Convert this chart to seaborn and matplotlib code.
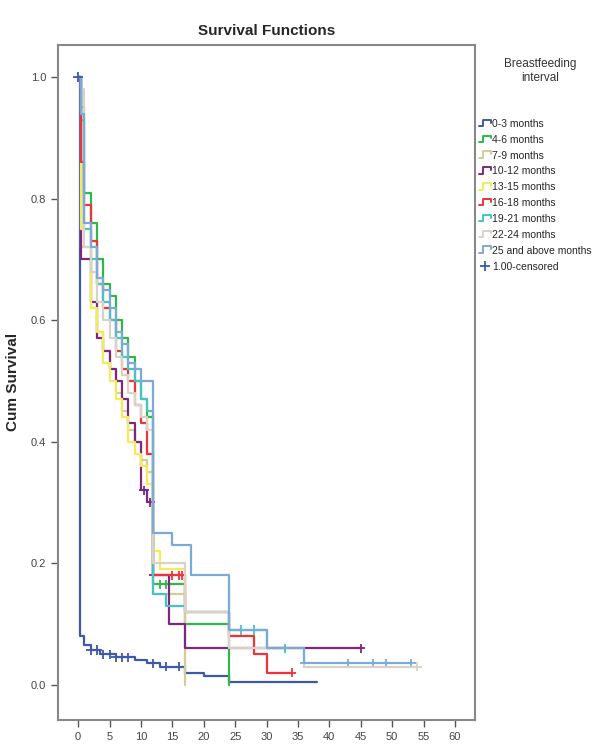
import numpy as np
import pandas as pd
import seaborn as sns
import matplotlib.pyplot as plt
from matplotlib.legend_handler import HandlerBase

# groups and colours (SPSS default palette)
groups = ["0-3 months", "4-6 months", "7-9 months", "10-12 months", "13-15 months",
          "16-18 months", "19-21 months", "22-24 months", "25 and above months"]
colors = ["#3E58AC", "#2EB848", "#D3CE97", "#7C287D", "#F3EC5A",
          "#EF3338", "#48C2C5", "#D8D2C8", "#7AAAD5"]

# step times / survival after each step, end of follow-up, censored times
t_03 = [0.3, 1, 2, 3.5, 6, 9, 11, 13, 17, 20, 24]
s_03 = [0.08, 0.065, 0.057, 0.05, 0.045, 0.04, 0.035, 0.03, 0.02, 0.015, 0.004]
c_03 = [2, 3, 4, 5, 6, 7, 8, 12, 14, 16]

t_46 = [0.5, 1, 2, 3, 4, 5, 6, 7, 8, 9, 10, 11, 12, 17, 24]
s_46 = [0.93, 0.81, 0.76, 0.70, 0.66, 0.64, 0.60, 0.57, 0.54, 0.50, 0.47, 0.44, 0.165, 0.10, 0.0]
c_46 = [13, 14]

t_79 = [0.5, 2, 3, 4, 5, 6, 7, 8, 9, 10, 11, 12, 17]
s_79 = [0.72, 0.62, 0.58, 0.55, 0.52, 0.48, 0.45, 0.42, 0.40, 0.37, 0.35, 0.15, 0.0]
c_79 = []

t_1012 = [0.5, 2, 3, 4, 5, 6, 7, 8, 9, 10, 11, 12, 14.5, 17]
s_1012 = [0.70, 0.63, 0.57, 0.55, 0.52, 0.50, 0.47, 0.43, 0.40, 0.32, 0.30, 0.18, 0.10, 0.06]
c_1012 = [10.5, 11.5, 12, 45]

t_1315 = [0.5, 2, 3, 4, 5, 6, 7, 8, 9, 10, 11, 12, 13, 17]
s_1315 = [0.75, 0.62, 0.58, 0.53, 0.50, 0.47, 0.44, 0.40, 0.38, 0.36, 0.33, 0.22, 0.19, 0.13]
c_1315 = []

t_1618 = [0.5, 1, 2, 3, 4, 5, 6, 7, 8, 9, 10, 11, 12, 17, 24, 28, 30]
s_1618 = [0.86, 0.79, 0.73, 0.66, 0.62, 0.60, 0.55, 0.52, 0.50, 0.46, 0.43, 0.38, 0.18, 0.12, 0.08, 0.05, 0.02]
c_1618 = [15, 16, 16.5, 34]

t_1921 = [0.5, 1, 2, 3, 4, 5, 6, 7, 8, 9, 10, 11, 12, 14, 17, 24, 30]
s_1921 = [0.95, 0.75, 0.70, 0.66, 0.63, 0.60, 0.57, 0.54, 0.52, 0.50, 0.47, 0.45, 0.15, 0.13, 0.12, 0.09, 0.06]
c_1921 = [26, 28, 33]

t_2224 = [0.5, 1, 2, 3, 4, 5, 6, 7, 8, 9, 10, 11, 12, 17, 24, 36]
s_2224 = [0.98, 0.72, 0.68, 0.63, 0.60, 0.57, 0.54, 0.51, 0.48, 0.46, 0.44, 0.42, 0.20, 0.12, 0.06, 0.03]
c_2224 = [54]

t_25 = [0.5, 1, 2, 3, 4, 5, 6, 7, 8, 9, 10, 12, 15, 18, 24, 30, 36]
s_25 = [0.94, 0.76, 0.72, 0.67, 0.65, 0.62, 0.58, 0.56, 0.53, 0.52, 0.50, 0.25, 0.23, 0.18, 0.09, 0.06, 0.035]
c_25 = [36, 43, 47, 49, 53]

end_t = [38, 24, 17, 45, 17, 34, 33, 54, 53]
steps_t = [t_03, t_46, t_79, t_1012, t_1315, t_1618, t_1921, t_2224, t_25]
steps_s = [s_03, s_46, s_79, s_1012, s_1315, s_1618, s_1921, s_2224, s_25]
cens_t = [c_03, c_46, c_79, c_1012, c_1315, c_1618, c_1921, c_2224, c_25]

rows, crows = [], []
for g, ts, ss, te, cs in zip(groups, steps_t, steps_s, end_t, cens_t):
    tt = [0] + ts + [te]
    sv = [1.0] + ss + [ss[-1]]
    for a, b in zip(tt, sv):
        rows.append((g, a, b))
    for c in cs:
        idx = np.searchsorted(tt, c, side="right") - 1
        crows.append((g, c, sv[idx]))
curves = pd.DataFrame(rows, columns=["group", "time", "surv"])
cens = pd.DataFrame(crows, columns=["group", "time", "surv"])


class StepHandler(HandlerBase):
    # small step-shaped legend key like SPSS
    def create_artists(self, legend, orig_handle, xdescent, ydescent,
                       width, height, fontsize, trans):
        w, h = width, height
        xs = [-xdescent, 0.35 * w, 0.35 * w, w, w]
        ys = [0.1 * h, 0.1 * h, 0.9 * h, 0.9 * h, 0.55 * h]
        ln = plt.Line2D(xs, ys, color=orig_handle.get_color(), lw=1.4, transform=trans)
        return [ln]


sns.set_theme(style="white")
plt.rcParams["font.family"] = ["Liberation Sans Narrow", "Liberation Sans", "DejaVu Sans"]

fig = plt.figure(figsize=(6.06, 7.51), dpi=100)
ax = fig.add_axes([0.0957, 0.0413, 0.6883, 0.899])
pal = dict(zip(groups, colors))

sns.lineplot(data=curves, x="time", y="surv", hue="group", palette=pal,
             hue_order=groups, drawstyle="steps-post", estimator=None,
             sort=False, linewidth=1.6, ax=ax, legend=False)
sns.scatterplot(data=cens, x="time", y="surv", hue="group", palette=pal,
                marker="+", s=45, linewidth=1.3, ax=ax, legend=False)
# start marker on top
ax.plot([0], [1.0], marker="+", color="#3E58AC", ms=7, mew=1.3)

ax.set_xlim(-3.2, 63.2)
ax.set_ylim(-0.058, 1.053)
ax.set_xticks(range(0, 61, 5))
ax.set_yticks([0, 0.2, 0.4, 0.6, 0.8, 1.0])
ax.set_yticklabels(["0.0", "0.2", "0.4", "0.6", "0.8", "1.0"])
ax.tick_params(axis="both", direction="out", length=5, width=1, color="#555555",
               labelsize=8, labelcolor="#444444", left=True, bottom=True)
for sp in ax.spines.values():
    sp.set_color("#888888")
    sp.set_linewidth(1.5)
ax.set_xlabel("")
ax.set_ylabel("Cum Survival", fontsize=11, fontweight="bold",
              family=["Liberation Sans", "DejaVu Sans"])
ax.yaxis.set_label_coords(-0.092, 0.5)
ax.set_title("Survival Functions", fontsize=11, fontweight="bold", pad=7)

# legend title placed separately (SPSS leaves a gap before the keys)
fig.text(0.892, 1 - 71 / 751, "Breastfeeding\ninterval", ha="center", va="center",
         fontsize=8.5, color="#333333", linespacing=1.3)

handles = [plt.Line2D([], [], color=c) for c in colors]
handles.append(plt.Line2D([], [], color="#3E58AC", marker="+", lw=0, ms=7, mew=1.3))
labels = groups + ["1.00-censored"]
hmap = {h: StepHandler() for h in handles[:-1]}
fig.legend(handles, labels, loc="upper left", handler_map=hmap,
           bbox_to_anchor=(0.79, 1 - 119 / 751), frameon=False, fontsize=7.5,
           handlelength=1.2, handleheight=0.8, handletextpad=0.1,
           labelspacing=0.56, borderaxespad=0, borderpad=0)

fig.savefig("out.png", dpi=100)
